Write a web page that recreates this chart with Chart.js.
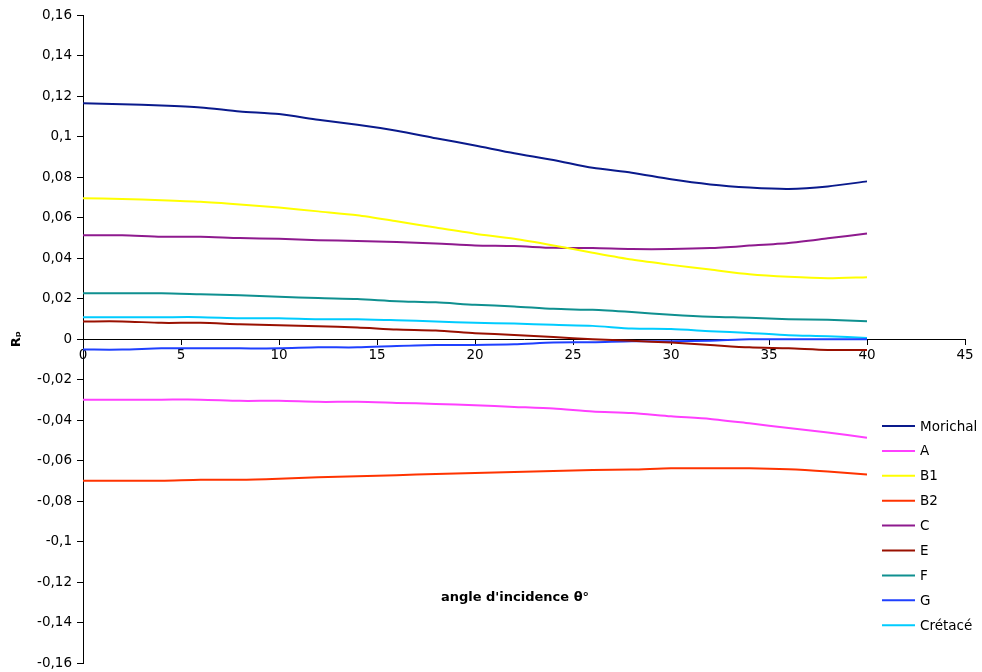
<!DOCTYPE html>
<html>
<head>
<meta charset="utf-8">
<script src="https://cdn.jsdelivr.net/npm/chart.js@4.4.1/dist/chart.umd.min.js"></script>
<style>
html,body{margin:0;padding:0;background:#fff;}
#wrap{width:982px;height:672px;}
</style>
</head>
<body>
<div id="wrap"><canvas id="c" width="982" height="672"></canvas></div>
<script>
const angles = [0,2,4,6,8,10,12,14,16,18,20,22,24,26,28,30,32,34,36,38,40];
const seriesNames = ['Morichal','A','B1','B2','C','E','F','G','Crétacé'];
const morichal = [0.1165,0.1160,0.1154,0.1144,0.1124,0.1111,0.1083,0.1058,0.1029,0.0992,0.0956,0.0918,0.0885,0.0846,0.0822,0.0789,0.0764,0.0749,0.0742,0.0754,0.0779];
const serieA = [-0.0298,-0.0298,-0.0298,-0.0298,-0.0304,-0.0304,-0.0309,-0.0309,-0.0314,-0.0319,-0.0326,-0.0334,-0.0342,-0.0356,-0.0364,-0.0380,-0.0393,-0.0415,-0.0438,-0.0460,-0.0486];
const serieB1 = [0.0696,0.0692,0.0686,0.0678,0.0665,0.0650,0.0631,0.0612,0.0582,0.0551,0.0521,0.0496,0.0463,0.0427,0.0393,0.0367,0.0344,0.0321,0.0308,0.0301,0.0306];
const serieB2 = [-0.0698,-0.0698,-0.0698,-0.0693,-0.0693,-0.0688,-0.0681,-0.0676,-0.0671,-0.0665,-0.0660,-0.0655,-0.0650,-0.0645,-0.0643,-0.0637,-0.0637,-0.0637,-0.0642,-0.0653,-0.0667];
const serieC = [0.0513,0.0513,0.0506,0.0506,0.0499,0.0496,0.0489,0.0485,0.0480,0.0473,0.0463,0.0460,0.0451,0.0450,0.0445,0.0445,0.0450,0.0462,0.0475,0.0498,0.0522];
const serieE = [0.0088,0.0088,0.0081,0.0081,0.0074,0.0069,0.0064,0.0058,0.0048,0.0043,0.0030,0.0021,0.0011,0.0000,-0.0008,-0.0016,-0.0028,-0.0040,-0.0045,-0.0053,-0.0053];
const serieF = [0.0227,0.0227,0.0227,0.0222,0.0217,0.0210,0.0203,0.0198,0.0188,0.0182,0.0170,0.0162,0.0150,0.0145,0.0134,0.0121,0.0111,0.0106,0.0099,0.0096,0.0089];
const serieG = [-0.0051,-0.0051,-0.0045,-0.0045,-0.0045,-0.0045,-0.0040,-0.0040,-0.0033,-0.0028,-0.0028,-0.0025,-0.0016,-0.0015,-0.0010,-0.0010,-0.0007,0.0000,0.0000,0.0000,0.0000];
const cretace = [0.0109,0.0109,0.0109,0.0109,0.0104,0.0104,0.0099,0.0099,0.0094,0.0088,0.0081,0.0078,0.0071,0.0066,0.0053,0.0050,0.0040,0.0031,0.0020,0.0015,0.0006];
const xTicks = [0,5,10,15,20,25,30,35,40,45];
const yTicks = [-0.16,-0.14,-0.12,-0.1,-0.08,-0.06,-0.04,-0.02,0,0.02,0.04,0.06,0.08,0.1,0.12,0.14,0.16];
const xTitle = "angle d'incidence θ°";
const yTitle = 'Rₚ';

const allSeries = [morichal, serieA, serieB1, serieB2, serieC, serieE, serieF, serieG, cretace];
const colors = ['#0a1a8c','#ff40ff','#ffff00','#ff3300','#8e1a8e','#991000','#0f9090','#1f40ff','#00ccff'];

const datasets = allSeries.map((vals, i) => ({
  label: seriesNames[i],
  data: vals.map((v, j) => ({x: angles[j], y: v})),
  borderColor: colors[i],
  backgroundColor: colors[i],
  borderWidth: 2,
  pointRadius: 0,
  tension: 0.25,
  fill: false
}));

const fmt = v => String(Math.round(v * 100) / 100).replace('.', ',');

const bgPlugin = {
  id: 'bg',
  beforeDraw(chart) {
    const ctx = chart.ctx;
    ctx.save();
    ctx.fillStyle = '#fff';
    ctx.fillRect(0, 0, chart.width, chart.height);
    ctx.restore();
  }
};

const extrasPlugin = {
  id: 'extras',
  afterDraw(chart) {
    const ctx = chart.ctx;
    ctx.save();
    ctx.font = 'bold 13px "DejaVu Sans"';
    ctx.fillStyle = '#000';
    ctx.textAlign = 'center';
    ctx.textBaseline = 'middle';
    ctx.fillText(xTitle, 515, 598);
    ctx.font = '13.5px "DejaVu Sans"';
    ctx.textAlign = 'left';
    chart.data.datasets.forEach((ds, i) => {
      const y = 426 + i * 24.9;
      ctx.strokeStyle = ds.borderColor;
      ctx.lineWidth = 2;
      ctx.beginPath();
      ctx.moveTo(882, y);
      ctx.lineTo(915, y);
      ctx.stroke();
      ctx.fillStyle = '#000';
      ctx.fillText(ds.label, 920, y + 1);
    });
    ctx.restore();
  }
};

new Chart(document.getElementById('c'), {
  type: 'line',
  data: { datasets },
  options: {
    responsive: false,
    animation: false,
    devicePixelRatio: 1,
    layout: { padding: { top: 15, right: 17, bottom: 8.5, left: 0 } },
    plugins: { legend: { display: false }, tooltip: { enabled: false } },
    scales: {
      x: {
        type: 'linear',
        position: { y: 0 },
        min: 0, max: 45,
        afterBuildTicks: s => { s.ticks = xTicks.map(v => ({ value: v })); },
        afterFit: s => { s.height = 0; s.paddingLeft = 0; s.paddingRight = 0; s.paddingTop = 0; s.paddingBottom = 0; },
        ticks: { color: '#000', font: { family: 'DejaVu Sans', size: 13.5 }, padding: 3, maxRotation: 0 },
        grid: { display: true, drawOnChartArea: false, drawTicks: true, tickLength: 5, color: '#000' },
        border: { display: true, color: '#000', width: 1 }
      },
      y: {
        type: 'linear',
        position: 'left',
        min: -0.16, max: 0.16,
        afterBuildTicks: s => { s.ticks = yTicks.map(v => ({ value: v })); },
        afterFit: s => { s.width = 83; s.paddingTop = 0; s.paddingBottom = 0; },
        ticks: { color: '#000', font: { family: 'DejaVu Sans', size: 13.5 }, padding: 5, callback: v => fmt(v) },
        grid: { display: true, drawOnChartArea: false, drawTicks: true, tickLength: 6, color: '#000' },
        border: { display: true, color: '#000', width: 1 },
        title: { display: true, text: yTitle, color: '#000', font: { family: 'DejaVu Sans', size: 13, weight: 'bold' }, padding: { top: 9, bottom: 4 } }
      }
    }
  },
  plugins: [bgPlugin, extrasPlugin]
});
</script>
</body>
</html>
